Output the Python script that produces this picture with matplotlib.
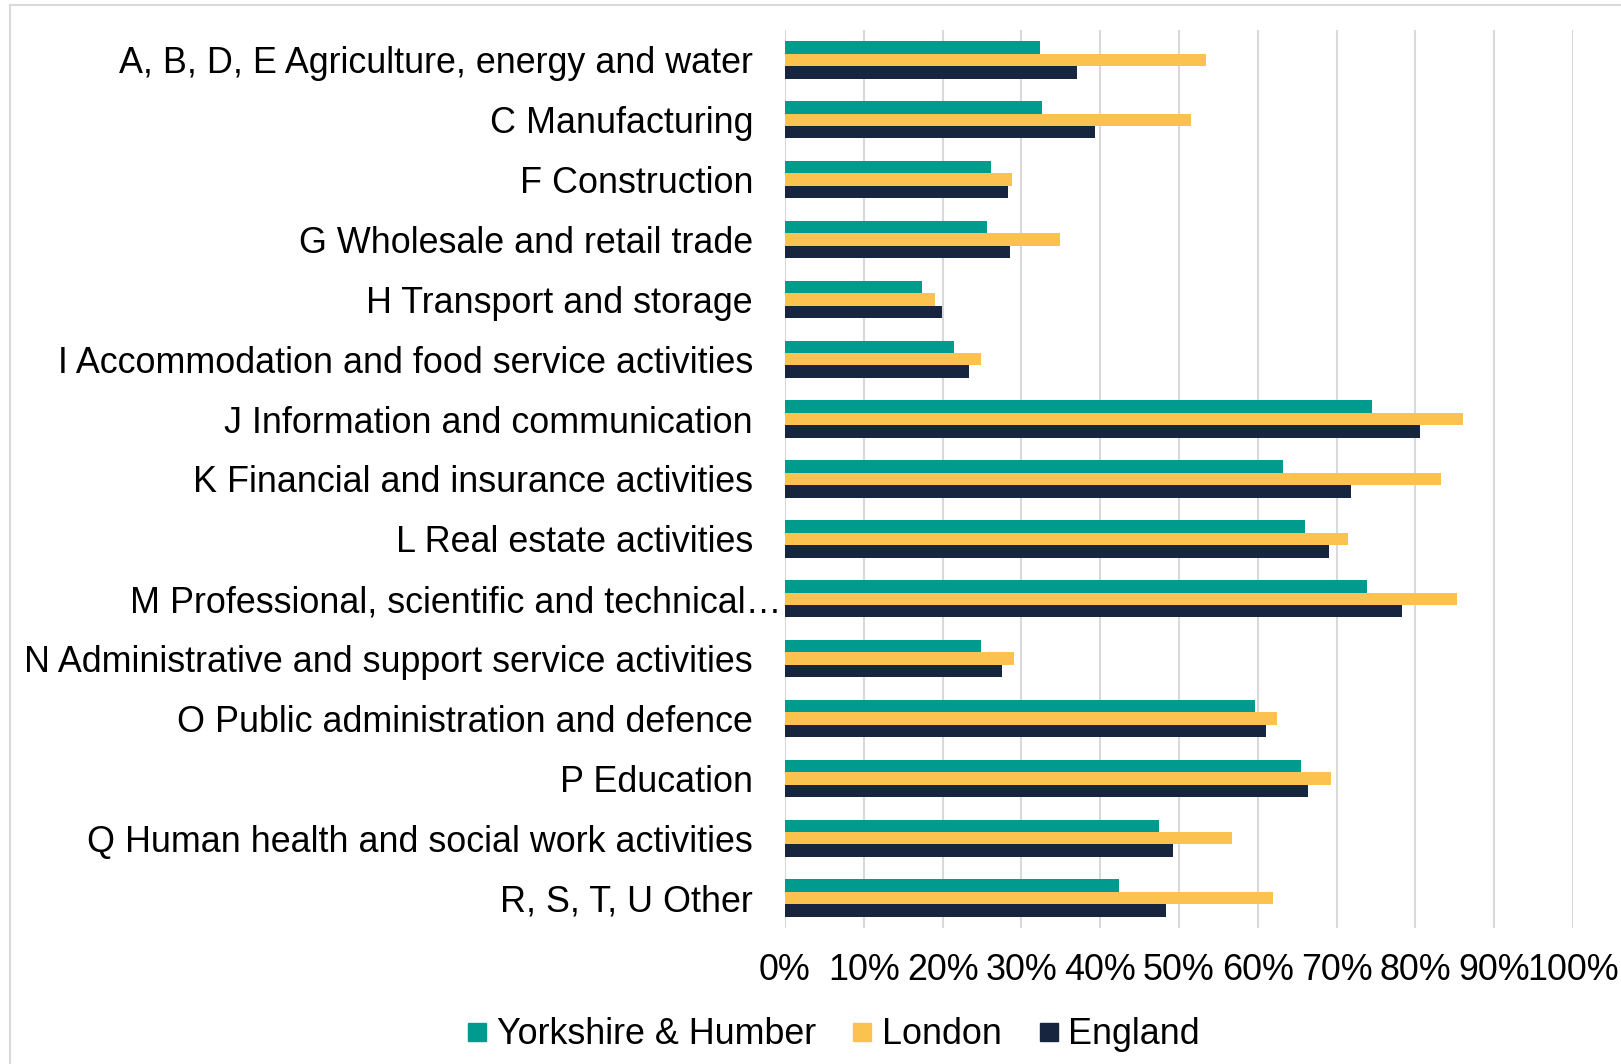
import numpy as np
import matplotlib
matplotlib.use("Agg")
import matplotlib.pyplot as plt
import matplotlib.transforms as mtransforms
from matplotlib.lines import Line2D

plt.rcParams['font.family'] = ['Liberation Sans', 'DejaVu Sans']

# Sectors, top to bottom
sectors = [
    'A, B, D, E Agriculture, energy and water',
    'C Manufacturing',
    'F Construction',
    'G Wholesale and retail trade',
    'H Transport and storage',
    'I Accommodation and food service activities',
    'J Information and communication',
    'K Financial and insurance activities',
    'L Real estate activities',
    'M Professional, scientific and technical\u2026',
    'N Administrative and support service activities',
    'O Public administration and defence',
    'P Education',
    'Q Human health and social work activities',
    'R, S, T, U Other',
]

# Shares (%)
yorkshire = [32.3, 32.6, 26.2, 25.6, 17.4, 21.5, 74.5, 63.2, 66.0, 73.8, 24.9, 59.7, 65.5, 47.4, 42.4]
london = [53.4, 51.5, 28.8, 34.9, 19.0, 24.9, 86.0, 83.3, 71.5, 85.3, 29.0, 62.4, 69.3, 56.7, 61.9]
england = [37.1, 39.4, 28.3, 28.5, 19.9, 23.3, 80.6, 71.8, 69.0, 78.3, 27.6, 61.1, 66.4, 49.2, 48.3]

series = ['Yorkshire & Humber', 'London', 'England']
colors = ['#009B8F', '#FCC24F', '#17253F']
fs = 25.8

fig = plt.figure(figsize=(16.21, 10.64), dpi=100)
ax = fig.add_axes([785 / 1621, 1 - 928 / 1064, 788 / 1621, 898 / 1064])

y = np.arange(len(sectors))
h = 0.208
for k, (vals, col, name) in enumerate(zip([yorkshire, london, england], colors, series)):
    ax.barh(y + (k - 1) * h, vals, height=h, color=col, label=name, zorder=3)

ax.set_xlim(0, 100)
ax.set_ylim(len(sectors) - 0.5, -0.5)
ax.set_xticks(np.arange(0, 101, 10))
ax.set_xticklabels([f'{v}%' for v in range(0, 101, 10)])
ax.set_yticks(y)
ax.set_yticklabels(sectors)
ax.grid(axis='x', color='#D9D9D9', linewidth=1.5, zorder=0)
for s in ax.spines.values():
    s.set_visible(False)
ax.tick_params(axis='y', length=0, pad=23, labelsize=fs, colors='black')
ax.tick_params(axis='x', length=0, pad=18, labelsize=fs, colors='black')

# the truncated label sits further right in the original
lab = ax.get_yticklabels()[9]
lab.set_transform(lab.get_transform() + mtransforms.ScaledTranslation(28 / 100, 0, fig.dpi_scale_trans))

handles = [Line2D([], [], marker='s', linestyle='none', markersize=13,
                  markerfacecolor=c, markeredgecolor=c) for c in colors]
fig.legend(handles, series, loc='center', bbox_to_anchor=(833 / 1621, 1 - 1035 / 1064),
           ncol=3, frameon=False, fontsize=fs, handletextpad=0.25, columnspacing=1.0,
           handlelength=0.6)

# light frame around the chart area
fig.add_artist(Line2D([10 / 1621, 1], [1 - 5 / 1064, 1 - 5 / 1064], color='#D9D9D9', linewidth=1.5))
fig.add_artist(Line2D([10 / 1621, 10 / 1621], [0, 1 - 5 / 1064], color='#D9D9D9', linewidth=1.5))

fig.savefig('out.png', dpi=100)
